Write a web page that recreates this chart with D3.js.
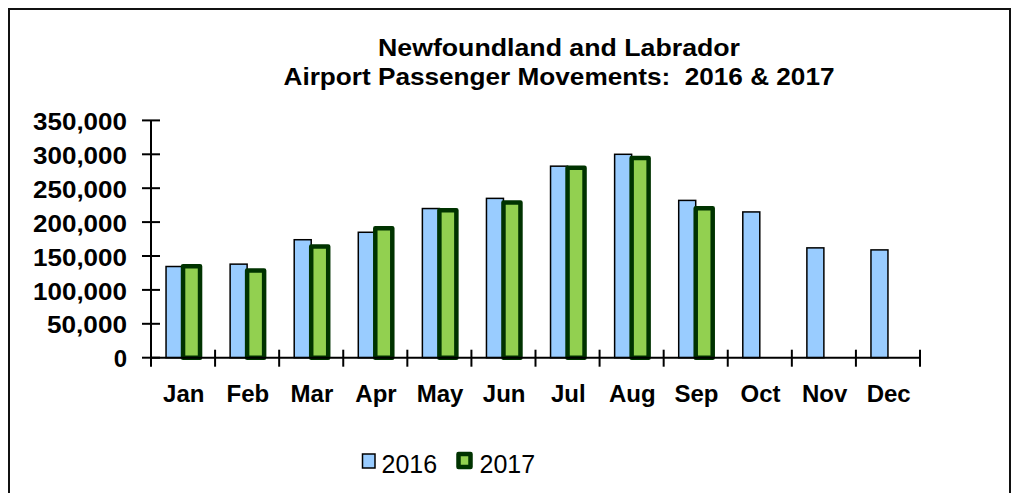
<!DOCTYPE html>
<html>
<head>
<meta charset="utf-8">
<script src="https://cdn.jsdelivr.net/npm/d3@7"></script>
<style>
  html, body { margin: 0; padding: 0; background: #fff; }
  svg { display: block; font-family: Arial, "Liberation Sans", Helvetica, sans-serif; }
</style>
</head>
<body>
<svg id="chart" width="1013" height="493"></svg>
<script>
const months = ["Jan","Feb","Mar","Apr","May","Jun","Jul","Aug","Sep","Oct","Nov","Dec"];
const values2016 = [134500, 138000, 174000, 185000, 220000, 235000, 282500, 300000, 232000, 215000, 162000, 159000];
const values2017 = [135000, 128500, 164000, 191000, 217500, 229000, 280000, 294500, 220500, null, null, null];
const seriesNames = ["2016", "2017"];
const yTicks = [0, 50000, 100000, 150000, 200000, 250000, 300000, 350000];
const titleLines = ["Newfoundland and Labrador", "Airport Passenger Movements:  2016 & 2017"];

const svg = d3.select("#chart");

// outer frame
svg.append("rect")
  .attr("x", 9).attr("y", 9).attr("width", 1001).attr("height", 520)
  .attr("fill", "none").attr("stroke", "#111").attr("stroke-width", 2);

// title
const title = svg.append("g").attr("font-weight", "bold").attr("font-size", 23).attr("fill", "#000");
title.append("text").attr("x", 559).attr("y", 55.5).attr("text-anchor", "middle")
  .attr("textLength", 362).attr("lengthAdjust", "spacingAndGlyphs").text(titleLines[0]);
title.append("text").attr("x", 559).attr("y", 84.5).attr("text-anchor", "middle")
  .attr("textLength", 551).attr("lengthAdjust", "spacingAndGlyphs").style("white-space", "pre").text(titleLines[1]);

const x = d3.scaleBand().domain(months).range([151, 920]).paddingInner(0).paddingOuter(0);
const bw = x.bandwidth();
const xs = d3.scaleBand().domain(seriesNames).range([0, bw]).paddingInner(0).paddingOuter((bw / 17 - 2) / 2);
const y = d3.scaleLinear().domain([0, 350000]).range([357.7, 120.4]);

// bars 2016
svg.append("g").selectAll("rect").data(months.map((m, i) => ({m, v: values2016[i]})).filter(d => d.v != null))
  .join("rect")
  .attr("x", d => x(d.m) + xs("2016"))
  .attr("y", d => y(d.v))
  .attr("width", xs.bandwidth())
  .attr("height", d => y(0) - y(d.v))
  .attr("fill", "#99ccff").attr("stroke", "#000").attr("stroke-width", 1.5);

// bars 2017
svg.append("g").selectAll("rect").data(months.map((m, i) => ({m, v: values2017[i]})).filter(d => d.v != null))
  .join("rect")
  .attr("x", d => x(d.m) + xs("2017"))
  .attr("y", d => y(d.v))
  .attr("width", xs.bandwidth())
  .attr("height", d => y(0) - y(d.v))
  .attr("fill", "#92d050").attr("stroke", "#003300").attr("stroke-width", 4.5)
  .attr("stroke-linejoin", "round");

// y axis
const yAxis = svg.append("g").attr("transform", "translate(151,0)")
  .call(d3.axisLeft(y).tickValues(yTicks).tickFormat(d3.format(",")).tickSize(0).tickPadding(24));
yAxis.select(".domain").remove();
yAxis.selectAll("text").attr("font-size", 24).attr("font-weight", "bold").attr("fill", "#000")
  .attr("font-family", "Arial, 'Liberation Sans', sans-serif")
  .attr("dy", "0.38em")
  .attr("textLength", d => d === 0 ? null : (d >= 100000 ? 94 : 80)).attr("lengthAdjust", "spacingAndGlyphs");
yAxis.append("line").attr("x1", 0).attr("x2", 0).attr("y1", y(350000)).attr("y2", y(0) + 9)
  .attr("stroke", "#000").attr("stroke-width", 2);
yAxis.selectAll(".crossTick").data(yTicks).join("line").attr("class", "crossTick")
  .attr("x1", -9).attr("x2", 9).attr("y1", d => y(d)).attr("y2", d => y(d))
  .attr("stroke", "#000").attr("stroke-width", 2);

// x axis
const xg = svg.append("g");
xg.append("line").attr("x1", 151).attr("x2", 920).attr("y1", y(0)).attr("y2", y(0))
  .attr("stroke", "#000").attr("stroke-width", 2);
const bounds = months.map(m => x(m) + bw).filter((d, i) => true);
xg.selectAll(".xt").data(bounds).join("line").attr("class", "xt")
  .attr("x1", d => d).attr("x2", d => d).attr("y1", y(0) - 8).attr("y2", y(0) + 9)
  .attr("stroke", "#000").attr("stroke-width", 2);
xg.selectAll(".xl").data(months).join("text").attr("class", "xl")
  .attr("x", d => x(d) + bw / 2 + 0.7).attr("y", 402.3)
  .attr("text-anchor", "middle").attr("font-size", 24).attr("font-weight", "bold").attr("fill", "#000")
  .text(d => d);

// legend
const lg = svg.append("g");
lg.append("rect").attr("x", 362.5).attr("y", 454).attr("width", 12.5).attr("height", 14)
  .attr("fill", "#99ccff").attr("stroke", "#000").attr("stroke-width", 1.5);
lg.append("rect").attr("x", 458.5).attr("y", 454).attr("width", 12).attr("height", 13)
  .attr("fill", "#92d050").attr("stroke", "#003300").attr("stroke-width", 4.5).attr("stroke-linejoin", "round");
lg.append("text").attr("x", 381.5).attr("y", 472.7).attr("font-size", 25).attr("fill", "#000").text(seriesNames[0]);
lg.append("text").attr("x", 479.5).attr("y", 472.7).attr("font-size", 25).attr("fill", "#000").text(seriesNames[1]);
</script>
</body>
</html>
